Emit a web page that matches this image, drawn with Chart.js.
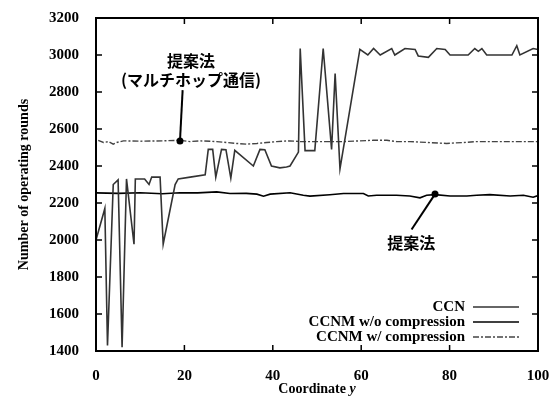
<!DOCTYPE html>
<html>
<head>
<meta charset="utf-8">
<script src="https://cdn.jsdelivr.net/npm/chart.js@4/dist/chart.umd.min.js"></script>
<style>
  html, body { margin: 0; padding: 0; background: #fff; }
  #wrap { width: 558px; height: 402px; }
</style>
</head>
<body>
<div id="wrap"><canvas id="chart"></canvas></div>
<script>
// CCN (fluctuating)
const ccnX = [0, 2, 2.6, 3.9, 5, 5.9, 6.9, 8.6, 8.9, 11, 12, 12.6, 14.5, 15.2, 17.9, 18.6, 21.3, 24.7, 25.4, 26.4,
  27.1, 28.4, 29.4, 30.5, 31.4, 35.6, 37.1, 38.2, 39.7, 41.6, 43.1, 43.9, 45.8, 46.2, 47.3, 49.5, 51.4, 53.3, 54.1, 55.2,
  59.7, 61.5, 62.8, 64.3, 66.9, 67.6, 69.9, 72.2, 72.9, 75.2, 77.1, 79, 80.1, 84.2, 85.7, 86.5, 87.3, 88.4, 94.1, 95.2,
  95.9, 98.9, 100];
const ccnY = [2000, 2170, 1430, 2300, 2325, 1420, 2330, 1977, 2330, 2330, 2300, 2340, 2340, 1977, 2300, 2330, 2340, 2352, 2490, 2490,
  2340, 2490, 2488, 2335, 2485, 2400, 2490, 2488, 2400, 2390, 2395, 2400, 2475, 3035, 2483, 2483, 3035, 2490, 2900, 2385,
  3030, 3000, 3035, 3000, 3035, 3000, 3035, 3030, 2995, 2987, 3035, 3030, 3000, 3000, 3035, 3020, 3035, 3000, 3000, 3050,
  3000, 3035, 3030];

// CCNM w/o compression
const woX = [0, 5, 10, 15, 19, 23, 27.3, 30.3, 34, 36.4, 37.9, 39.4, 43.9, 46.9, 48.4, 52.9, 56, 60.5, 61.6, 63.5,
  68, 71, 73.3, 74.8, 76.7, 80.1, 83.9, 86.1, 89.1, 93.7, 96.7, 98.9, 100];
const woY = [2255, 2252, 2255, 2250, 2255, 2255, 2260, 2251, 2252, 2248, 2237, 2248, 2255, 2242, 2237, 2245, 2251, 2251, 2238, 2242,
  2242, 2238, 2228, 2242, 2245, 2238, 2238, 2242, 2245, 2238, 2242, 2231, 2240];

// CCNM w/ compression
const wX = [0.5, 1.7, 2.8, 3.9, 4.7, 6.2, 10, 15, 19, 21.3, 23.5, 27.3, 29.6, 31.8, 34.1, 36.4, 38.6, 40.9, 43.9, 46.2,
  48.4, 56, 62.7, 65.8, 68, 71, 75, 79.3, 83.1, 86.1, 93.7, 98.2, 100];
const wY = [2539, 2527, 2532, 2518, 2527, 2536, 2534, 2536, 2539, 2532, 2536, 2532, 2527, 2522, 2518, 2522, 2527, 2532, 2536, 2532,
  2532, 2532, 2539, 2539, 2532, 2532, 2527, 2522, 2527, 2532, 2532, 2532, 2532];

const seriesNames = ['CCN', 'CCNM w/o compression', 'CCNM w/ compression'];

function pts(xs, ys) {
  return xs.map((x, i) => ({x: x, y: ys[i]}));
}

const serif = "'Liberation Serif', 'DejaVu Serif', serif";
const jp = "'Noto Sans CJK JP', sans-serif";

const decor = {
  id: 'decor',
  afterDatasetsDraw(chart) {
    const ctx = chart.ctx;
    const a = chart.chartArea;
    const xs = chart.scales.x, ys = chart.scales.y;
    ctx.save();

    // frame
    ctx.strokeStyle = '#000';
    ctx.lineWidth = 2;
    ctx.strokeRect(a.left, a.top, a.right - a.left, a.bottom - a.top);

    // inward ticks
    ctx.lineWidth = 1.5;
    ctx.beginPath();
    ys.ticks.forEach(t => {
      const py = ys.getPixelForValue(t.value);
      ctx.moveTo(a.left, py); ctx.lineTo(a.left + 6, py);
      ctx.moveTo(a.right, py); ctx.lineTo(a.right - 6, py);
    });
    xs.ticks.forEach(t => {
      const px = xs.getPixelForValue(t.value);
      ctx.moveTo(px, a.bottom); ctx.lineTo(px, a.bottom - 6);
      ctx.moveTo(px, a.top); ctx.lineTo(px, a.top + 6);
    });
    ctx.stroke();

    // annotation 1 (dash-dot line)
    const m1x = xs.getPixelForValue(19), m1y = ys.getPixelForValue(2535);
    ctx.lineWidth = 2;
    ctx.beginPath();
    ctx.moveTo(m1x, m1y);
    ctx.lineTo(xs.getPixelForValue(19.6), ys.getPixelForValue(2810));
    ctx.stroke();
    ctx.beginPath();
    ctx.arc(m1x, m1y, 3.5, 0, Math.PI * 2);
    ctx.fillStyle = '#000';
    ctx.fill();

    ctx.font = "bold 16px " + jp;
    ctx.textAlign = 'center';
    ctx.textBaseline = 'middle';
    const t1x = xs.getPixelForValue(21.5);
    ctx.fillText('提案法', t1x, ys.getPixelForValue(2970));
    ctx.fillText('(マルチホップ通信)', t1x, ys.getPixelForValue(2863));

    // annotation 2 (solid line)
    const m2x = xs.getPixelForValue(76.7), m2y = ys.getPixelForValue(2248);
    ctx.beginPath();
    ctx.moveTo(m2x, m2y);
    ctx.lineTo(xs.getPixelForValue(71.4), ys.getPixelForValue(2057));
    ctx.stroke();
    ctx.beginPath();
    ctx.arc(m2x, m2y, 3.5, 0, Math.PI * 2);
    ctx.fill();
    ctx.fillText('提案法', xs.getPixelForValue(71.3), ys.getPixelForValue(1983));

    // legend
    ctx.font = "bold 15px " + serif;
    ctx.textAlign = 'right';
    const styles = chart.data.datasets;
    const textRight = 465, lx0 = 473, lx1 = 519;
    [307, 322, 337].forEach((ly, i) => {
      ctx.fillStyle = '#000';
      ctx.fillText(seriesNames[i], textRight, ly);
      ctx.strokeStyle = styles[i].borderColor;
      ctx.lineWidth = styles[i].borderWidth;
      ctx.setLineDash(styles[i].borderDash || []);
      ctx.beginPath();
      ctx.moveTo(lx0, ly); ctx.lineTo(lx1, ly);
      ctx.stroke();
      ctx.setLineDash([]);
    });

    // x title with italic y
    ctx.fillStyle = '#000';
    ctx.textAlign = 'left';
    const part1 = 'Coordinate ';
    ctx.font = "bold 14px " + serif;
    const w1 = ctx.measureText(part1).width;
    ctx.font = "italic bold 14px " + serif;
    const w2 = ctx.measureText('y').width;
    const cx = (a.left + a.right) / 2 - (w1 + w2) / 2;
    ctx.font = "bold 14px " + serif;
    ctx.fillText(part1, cx, 389);
    ctx.font = "italic bold 14px " + serif;
    ctx.fillText('y', cx + w1, 389);

    ctx.restore();
  }
};

new Chart(document.getElementById('chart'), {
  type: 'line',
  data: {
    datasets: [{
      label: seriesNames[0],
      data: pts(ccnX, ccnY),
      borderColor: '#333',
      borderWidth: 1.6,
      pointRadius: 0,
      tension: 0
    }, {
      label: seriesNames[1],
      data: pts(woX, woY),
      borderColor: '#000',
      borderWidth: 1.6,
      pointRadius: 0,
      tension: 0
    }, {
      label: seriesNames[2],
      data: pts(wX, wY),
      borderColor: '#444',
      borderWidth: 1.4,
      borderDash: [6, 2, 2, 2],
      pointRadius: 0,
      tension: 0
    }]
  },
  options: {
    responsive: true,
    maintainAspectRatio: false,
    animation: false,
    layout: {padding: {left: 0, top: 14, right: 20, bottom: 0}},
    plugins: {legend: {display: false}, tooltip: {enabled: false}},
    scales: {
      x: {
        type: 'linear',
        min: 0, max: 100,
        grid: {display: false},
        border: {display: false},
        ticks: {stepSize: 20, color: '#000', padding: 8, font: {family: serif, size: 15, weight: 'bold'}, maxRotation: 0,
          callback: v => String(v)},
        afterFit(scale) { scale.height = 51; }
      },
      y: {
        min: 1400, max: 3200,
        grid: {display: false},
        border: {display: false},
        ticks: {stepSize: 200, color: '#000', padding: 9, font: {family: serif, size: 15, weight: 'bold'},
          callback: v => String(v)},
        title: {display: true, text: 'Number of operating rounds', color: '#000',
          font: {family: serif, size: 14, weight: 'bold'}, padding: {top: 16, bottom: 0}},
        afterFit(scale) { scale.width = 96; }
      }
    }
  },
  plugins: [decor]
});
</script>
</body>
</html>
